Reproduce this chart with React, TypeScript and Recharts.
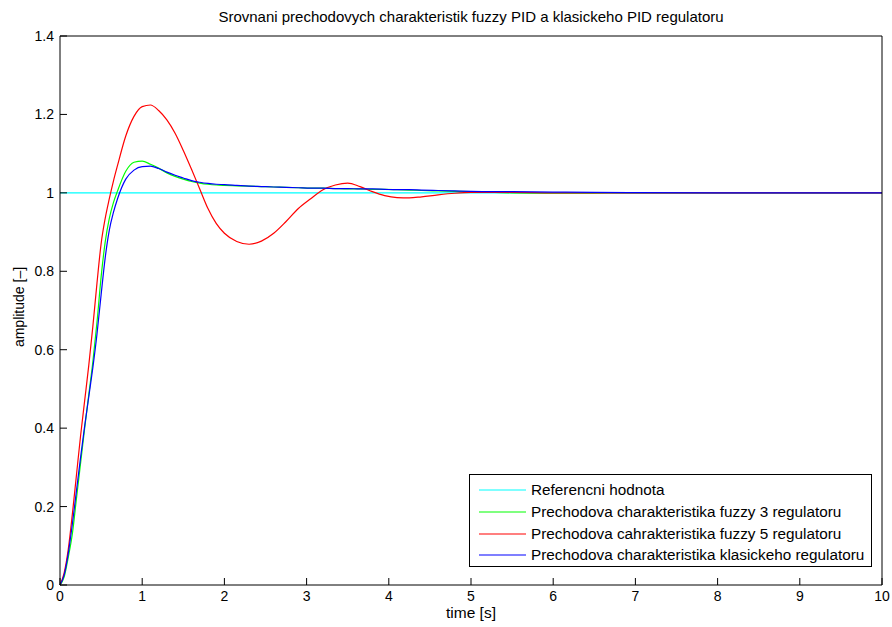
import React from "react";
import { LineChart, Line, XAxis, YAxis } from "recharts";

// Simulation time [s]
const time = [
  0, 0.05, 0.1, 0.15, 0.2, 0.25, 0.3, 0.35, 0.4, 0.45, 0.5, 0.55, 0.6, 0.65, 0.7,
  0.8, 0.9, 1.0, 1.1, 1.2, 1.3, 1.4, 1.5, 1.6, 1.7, 1.8, 1.9, 2.0, 2.15, 2.3,
  2.45, 2.6, 2.75, 2.9, 3.05, 3.2, 3.35, 3.5, 3.65, 3.8, 3.95, 4.1, 4.25, 4.4,
  4.6, 4.8, 5.0, 5.5, 6, 6.5, 7, 8, 9, 10,
];

// Reference value (setpoint)
const reference = time.map(() => 1);

// Step response, fuzzy PID with 3 rules
const fuzzy3 = [
  0, 0.02, 0.07, 0.13, 0.22, 0.31, 0.4, 0.485, 0.57, 0.67, 0.785, 0.875, 0.935, 0.975, 1.005,
  1.055, 1.078, 1.081, 1.073, 1.063, 1.051, 1.042, 1.035, 1.029, 1.025, 1.022, 1.02, 1.019, 1.018, 1.017,
  1.016, 1.015, 1.014, 1.013, 1.012, 1.012, 1.011, 1.01, 1.01, 1.009, 1.009, 1.008, 1.007, 1.006,
  1.005, 1.004, 1.003, 1.0, 0.999, 0.9995, 1.0, 1.0, 1.0, 1.0,
];

// Step response, fuzzy PID with 5 rules
const fuzzy5 = [
  0, 0.03, 0.09, 0.18, 0.28, 0.38, 0.47, 0.56, 0.66, 0.77, 0.87, 0.935, 0.985, 1.03, 1.07,
  1.145, 1.195, 1.22, 1.224, 1.21, 1.186, 1.152, 1.108, 1.06, 1.01, 0.96, 0.922, 0.897, 0.876, 0.869,
  0.877, 0.897, 0.927, 0.96, 0.985, 1.008, 1.02, 1.025, 1.016, 1.003, 0.993, 0.988, 0.987, 0.99,
  0.995, 0.999, 1.001, 1.001, 1.0, 1.0, 1.0, 1.0, 1.0, 1.0,
];

// Step response, classic PID
const classic = [
  0, 0.025, 0.08, 0.155, 0.24, 0.325, 0.405, 0.48, 0.555, 0.64, 0.74, 0.835, 0.905, 0.95, 0.985,
  1.035, 1.058, 1.067, 1.068, 1.062, 1.053, 1.045, 1.038, 1.031, 1.027, 1.024, 1.022, 1.021, 1.019, 1.017,
  1.016, 1.015, 1.014, 1.013, 1.012, 1.012, 1.011, 1.011, 1.01, 1.01, 1.009, 1.008, 1.008, 1.007,
  1.006, 1.005, 1.004, 1.003, 1.002, 1.001, 1.0005, 1.0, 1.0, 1.0,
];

const xTicks = [0, 1, 2, 3, 4, 5, 6, 7, 8, 9, 10];
const yTicks = [0, 0.2, 0.4, 0.6, 0.8, 1, 1.2, 1.4];

const seriesNames = [
  "Referencni hodnota",
  "Prechodova charakteristika fuzzy 3 regulatoru",
  "Prechodova cahrakteristika fuzzy 5 regulatoru",
  "Prechodova charakteristika klasickeho regulatoru",
];
const seriesKeys = ["ref", "f3", "f5", "pid"];
const seriesColors = ["#00ffff", "#00ff00", "#ff0000", "#0000ff"];

const data = time.map((t, i) => ({
  t,
  ref: reference[i],
  f3: fuzzy3[i],
  f5: fuzzy5[i],
  pid: classic[i],
}));

const FONT = "'Liberation Sans', Arial, Helvetica, sans-serif";
const tickStyle = { fontSize: 14, fill: "#000", fontFamily: FONT };

export default function App() {
  return (
    <div
      style={{
        position: "absolute",
        left: 0,
        top: 0,
        width: 892,
        height: 627,
        background: "#fff",
        fontFamily: FONT,
      }}
    >
      <div
        style={{
          position: "absolute",
          left: 60,
          width: 822,
          top: 8,
          textAlign: "center",
          fontSize: 15,
          color: "#000",
          whiteSpace: "nowrap",
        }}
      >
        Srovnani prechodovych charakteristik fuzzy PID a klasickeho PID regulatoru
      </div>

      <LineChart
        width={892}
        height={627}
        data={data}
        margin={{ top: 36, right: 10, bottom: 12, left: 0 }}
      >
        <XAxis
          dataKey="t"
          type="number"
          domain={[0, 10]}
          ticks={xTicks}
          tickSize={-7}
          tickMargin={13}
          height={30}
          tick={tickStyle}
          stroke="#000"
          interval={0}
        />
        <XAxis
          xAxisId="top"
          dataKey="t"
          type="number"
          orientation="top"
          mirror
          domain={[0, 10]}
          ticks={xTicks}
          tickSize={7}
          tick={false}
          stroke="#000"
          interval={0}
        />
        <YAxis
          type="number"
          domain={[0, 1.4]}
          ticks={yTicks}
          tickSize={-7}
          tickMargin={13}
          width={60}
          tick={tickStyle}
          stroke="#000"
          interval={0}
        />
        <YAxis
          yAxisId="right"
          type="number"
          orientation="right"
          mirror
          domain={[0, 1.4]}
          ticks={yTicks}
          tickSize={7}
          tick={false}
          stroke="#000"
          interval={0}
        />
        {seriesKeys.map((k, i) => (
          <Line
            key={k}
            dataKey={k}
            type="monotone"
            stroke={seriesColors[i]}
            strokeWidth={1.2}
            dot={false}
            isAnimationActive={false}
          />
        ))}
      </LineChart>

      <div
        style={{
          position: "absolute",
          left: 60,
          width: 822,
          top: 604,
          textAlign: "center",
          fontSize: 15.5,
          color: "#000",
        }}
      >
        time [s]
      </div>

      <div
        style={{
          position: "absolute",
          left: 19,
          top: 307,
          transform: "translate(-50%, -50%) rotate(-90deg)",
          fontSize: 14,
          color: "#000",
          whiteSpace: "nowrap",
        }}
      >
        amplitude [–]
      </div>

      <div
        style={{
          position: "absolute",
          left: 469,
          top: 474,
          width: 401,
          height: 91,
          border: "1px solid #000",
          background: "#fff",
          boxSizing: "content-box",
        }}
      >
        {seriesNames.map((name, i) => (
          <div
            key={name}
            style={{
              position: "absolute",
              left: 0,
              top: 4 + i * 21.8,
              height: 22,
              display: "flex",
              alignItems: "center",
              whiteSpace: "nowrap",
              fontSize: 15.3,
              color: "#000",
            }}
          >
            <svg width={61} height={22}>
              <line x1={9} x2={56} y1={11} y2={11} stroke={seriesColors[i]} strokeWidth={1.2} />
            </svg>
            <span>{name}</span>
          </div>
        ))}
      </div>
    </div>
  );
}
